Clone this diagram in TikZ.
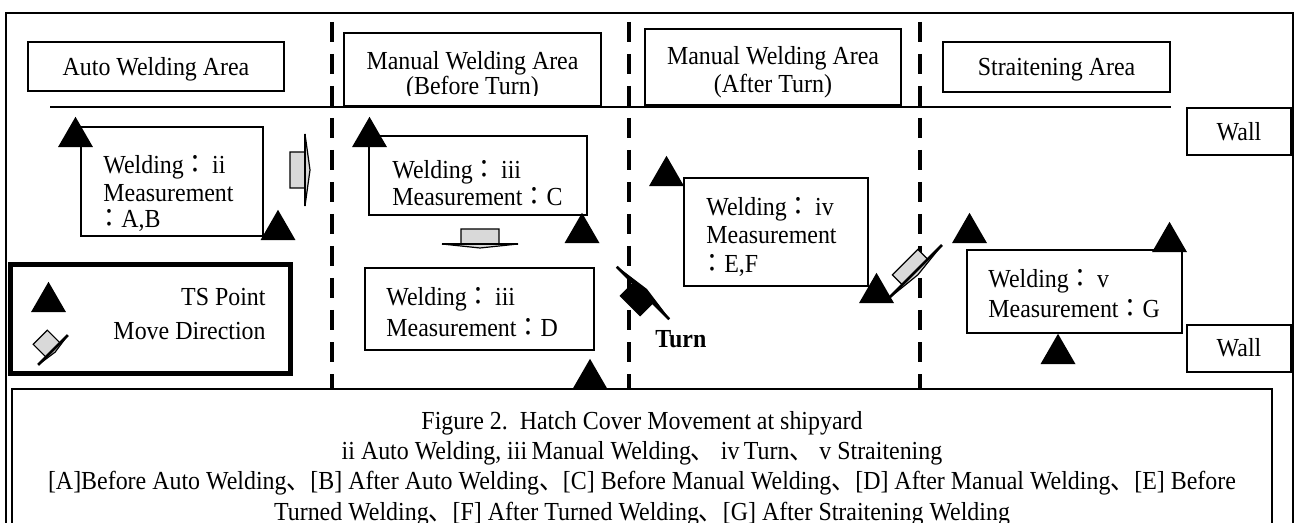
\documentclass[tikz,border=0pt]{standalone}
\usepackage{fontspec}
\setmainfont[FakeStretch=0.92]{Liberation Serif}
\newfontfamily\jpfont[FakeStretch=0.92]{Noto Sans CJK JP}
\newcommand\jp[1]{{\jpfont #1}}
\usetikzlibrary{shapes.geometric,fit}
\definecolor{arrowgray}{gray}{0.85}
% #1 x, #2 y, #3 angle, #4 body length, #5 body half width, #6 head half width, #7 head length, #8 fill
\newcommand\blkarrow[8]{%
 \begin{scope}[shift={(#1,#2)},rotate=#3]
  \draw[line width=0.6pt,fill=#8,line join=miter] (-#4,-#5) -- (0,-#5) -- (0,-#6) -- (#7,0) -- (0,#6) -- (0,#5) -- (-#4,#5) -- cycle;
  \draw[line width=1.3pt] (0,-#6) -- (0,#6);
 \end{scope}}
\begin{document}
\begin{tikzpicture}[x=0.5pt,y=-0.5pt,
  every node/.style={font=\fontsize{13}{15}\selectfont},
  box/.style={draw,line width=0.75pt,inner sep=0pt},
  lbl/.style={inner sep=0pt,anchor=base west},
  ctr/.style={inner sep=0pt,anchor=base},
  rgt/.style={inner sep=0pt,anchor=base east},
  tsp/.style={regular polygon,regular polygon sides=3,minimum size=20.2pt,inner sep=0pt,fill=black,draw=none},
  divider/.style={line width=2pt,dash pattern=on 10pt off 6pt}]
\useasboundingbox (0,0) rectangle (1299,523);
\clip (0,0) rectangle (1299,523);
\fill[white] (0,0) rectangle (1299,523);

% outer frame and caption box
\node[box,fit={(6,13) (1293,600)}] (frame) {};
\node[box,fit={(12,389) (1272,600)}] (capbox) {};

% dividers
\coordinate (d1t) at (332,22);  \coordinate (d1b) at (332,389);
\coordinate (d2t) at (629,22);  \coordinate (d2b) at (629,389);
\coordinate (d3t) at (920,22);  \coordinate (d3b) at (920,389);
\draw[divider] (d1t) -- (d1b);
\draw[divider] (d2t) -- (d2b);
\draw[divider] (d3t) -- (d3b);

% horizontal line
\coordinate (h1) at (50,107); \coordinate (h2) at (1171,107);
\draw[line width=1pt] (h1) -- (h2);

% area titles
\node[box,fit={(28,42) (284,91)}] (auto) {};
\node[ctr] (autot) at (156,76) {Auto Welding Area};
\node[box,fill=white,fit={(344,33) (601,106)}] (manb) {};
\begin{scope}
\clip (344,33) rectangle (601,96);
\node[ctr] (manbt1) at (472.5,70) {Manual Welding Area};
\node[ctr] (manbt2) at (472.5,95) {(Before Turn)};
\end{scope}
\node[box,fill=white,fit={(645,29) (901,105)}] (mana) {};
\node[ctr] (manat1) at (773,65) {Manual Welding Area};
\node[ctr] (manat2) at (773,93) {(After Turn)};
\node[box,fit={(943,42) (1170,92)}] (strait) {};
\node[ctr] (straitt) at (1056.5,76) {Straitening Area};
\node[box,fit={(1187,108) (1291,155)}] (wall1) {};
\node[ctr] (wall1t) at (1239,141) {Wall};
\node[box,fit={(1187,325) (1291,372)}] (wall2) {};
\node[ctr] (wall2t) at (1239,357) {Wall};

% process boxes
\node[box,fit={(81,127) (263,236)}] (b1) {};
\node[lbl] (b1a) at (103,174) {Welding\jp{：}\,ii};
\node[lbl] (b1b) at (103,202) {Measurement};
\node[lbl] (b1c) at (97,228) {\jp{：}A,B};

\node[box,fit={(369,136) (587,215)}] (bc) {};
\node[lbl] (bca) at (392,179) {Welding\jp{：}\,iii};
\node[lbl] (bcb) at (392,206) {Measurement\jp{：}C};

\node[box,fit={(365,268) (594,350)}] (bd) {};
\node[lbl] (bda) at (386,306) {Welding\jp{：}\,iii};
\node[lbl] (bdb) at (386,336) {Measurement\jp{：}D};

\node[box,fit={(684,178) (868,286)}] (biv) {};
\node[lbl] (biva) at (706,216) {Welding\jp{：}\,iv};
\node[lbl] (bivb) at (706,244) {Measurement};
\node[lbl] (bivc) at (700,273) {\jp{：}E,F};

\node[box,fit={(967,250) (1182,333)}] (bv) {};
\node[lbl] (bva) at (988,288) {Welding\jp{：}\,v};
\node[lbl] (bvb) at (988,318) {Measurement\jp{：}G};

% legend
\node[draw,line width=2.5pt,inner sep=0pt,fit={(10,265) (290,373)}] (legend) {};
\node[rgt] (legts) at (266,306) {TS Point};
\node[rgt] (legmd) at (266,339) {Move Direction};
\node[tsp] (tl) at (48.5,302) {};
\blkarrow{53}{350}{-45}{18}{10}{21}{3}{arrowgray}

% TS points (centre = base - 10)
\node[tsp] (t1) at (75.5,137) {};
\node[tsp] (t2) at (278,230) {};
\node[tsp] (t3) at (369.5,137) {};
\node[tsp] (t4) at (582,233) {};
\node[tsp] (t5) at (666.5,176) {};
\node[tsp] (t6) at (876.5,293) {};
\node[tsp] (t7) at (969.5,233) {};
\node[tsp] (t8) at (1169.5,242) {};
\node[tsp] (t9) at (1058,354) {};
\node[tsp] (t10) at (590,379) {};

% move direction arrows
\blkarrow{305}{170}{0}{15}{18}{36}{5}{arrowgray}
\blkarrow{480}{244}{-90}{15}{19}{38}{4}{arrowgray}
\blkarrow{915}{272}{-45}{14}{18}{38}{4}{arrowgray}
\blkarrow{643}{293}{45}{18}{14}{37}{5}{black}
\node[lbl,font=\fontsize{13}{15}\selectfont\bfseries] (turn) at (655,347) {Turn};

% caption
\node[ctr] (cap1) at (642,429) {Figure 2.\ \ Hatch Cover Movement at shipyard};
\node[ctr] (cap2) at (642,459) {ii Auto Welding, iii\,Manual Welding\jp{、} iv\,Turn\jp{、} v Straitening};
\node[ctr] (cap3) at (642,489) {[A]Before Auto Welding\jp{、}[B] After Auto Welding\jp{、}[C] Before Manual Welding\jp{、}[D] After Manual Welding\jp{、}[E] Before};
\node[ctr] (cap4) at (642,520) {Turned Welding\jp{、}[F] After Turned Welding\jp{、}[G] After Straitening Welding};
\end{tikzpicture}
\end{document}
